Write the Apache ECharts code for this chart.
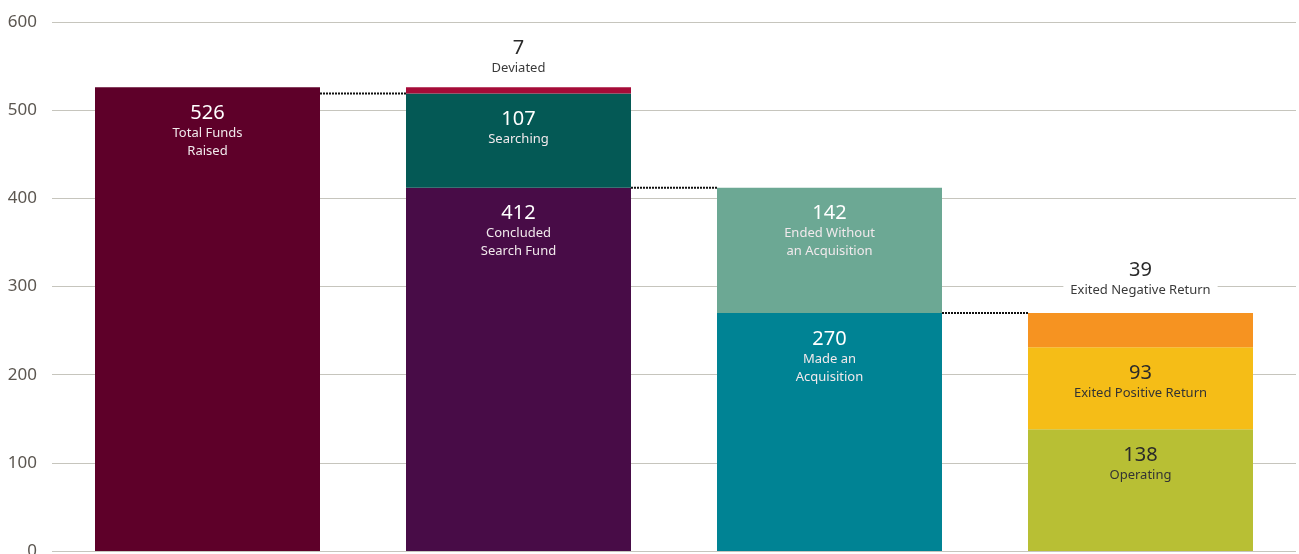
<!DOCTYPE html>
<html>
<head>
<meta charset="utf-8">
<script src="https://cdn.jsdelivr.net/npm/echarts@6/dist/echarts.min.js"></script>
<style>
  html, body { margin: 0; padding: 0; background: #fff; overflow: hidden; }
  #chart { width: 1299px; height: 554px; }
</style>
</head>
<body>
<div id="chart"></div>
<script>
// columns of the funnel, segments listed bottom -> top
const columns = ['Raised', 'Status', 'Outcome', 'Acquired'];
const segmentNames = [
  ['Total Funds\nRaised'],
  ['Concluded\nSearch Fund', 'Searching', 'Deviated'],
  ['Made an\nAcquisition', 'Ended Without\nan Acquisition'],
  ['Operating', 'Exited Positive Return', 'Exited Negative Return']
];
const segmentValues = [
  [526],
  [412, 107, 7],
  [270, 142],
  [138, 93, 39]
];
// dotted connectors: [from column, level]
const connectors = [[0, 519], [1, 412], [2, 270]];
const yTicks = [0, 100, 200, 300, 400, 500, 600];

// styles
const segmentColors = [
  ['#5e0029'],
  ['#480c47', '#045955', '#a50b38'],
  ['#008394', '#6ca894'],
  ['#b8bf34', '#f5bd17', '#f69321']
];
const darkText = [[false], [false, false, false], [false, false], [true, true, true]];
const outside = [[false], [false, false, true], [false, false], [false, false, true]];
const BAR_RATIO = 225 / 311;

const el = document.getElementById('chart');
const chart = echarts.init(el);

function labelFor(c, l) {
  const dark = darkText[c][l];
  const out = outside[c][l];
  const name = segmentNames[c][l];
  const nameRich = out
    ? { fontSize: 13, lineHeight: 18, color: '#3a3a3a', backgroundColor: '#fff', padding: [0, 7] }
    : { fontSize: 13, lineHeight: 18, color: dark ? '#333' : '#f1e9ec' };
  return {
    show: true,
    position: out ? 'top' : 'insideTop',
    distance: out ? (c === 3 ? 14 : 10) : 15,
    align: 'center',
    fontFamily: 'Noto Sans',
    formatter: () => `{v|${segmentValues[c][l]}}\n` +
      name.split('\n').map(s => `{n|${s}}`).join('\n'),
    rich: {
      v: { fontSize: 20, lineHeight: 22, color: out ? '#2a2a2a' : (dark ? '#2a2a2a' : '#fff') },
      n: nameRich
    }
  };
}

const layers = Math.max(...segmentValues.map(s => s.length));
const barSeries = [];
for (let l = 0; l < layers; l++) {
  barSeries.push({
    type: 'bar',
    stack: 'total',
    barWidth: (BAR_RATIO * 100) + '%',
    z: 3,
    data: columns.map((col, c) => {
      if (segmentValues[c][l] == null) return '-';
      return {
        value: segmentValues[c][l],
        itemStyle: { color: segmentColors[c][l] },
        label: labelFor(c, l)
      };
    })
  });
}

const option = {
  animation: false,
  backgroundColor: '#fff',
  grid: { left: 52, right: 3, top: 22, bottom: 3, containLabel: false, outerBoundsMode: 'none' },
  xAxis: {
    type: 'category',
    data: columns,
    axisLine: { show: false },
    axisTick: { show: false },
    axisLabel: { show: false }
  },
  yAxis: {
    type: 'value',
    min: yTicks[0],
    max: yTicks[yTicks.length - 1],
    interval: 100,
    axisLine: { show: false },
    axisTick: { show: false },
    axisLabel: { color: '#5b5650', fontSize: 17, fontFamily: 'Noto Sans', margin: 15 },
    splitLine: { lineStyle: { color: '#c6c5bd', width: 1 } }
  },
  series: barSeries.concat([{
    type: 'custom',
    z: 4,
    data: connectors,
    encode: { x: 0, y: 1 },
    renderItem(params, api) {
      const p = api.coord([api.value(0), api.value(1)]);
      const band = api.size([1, 0])[0];
      const half = band * BAR_RATIO / 2;
      return {
        type: 'line',
        shape: { x1: p[0] + half, y1: p[1], x2: p[0] + band - half, y2: p[1] },
        style: { stroke: '#111', lineWidth: 2, lineDash: [2, 1] }
      };
    }
  }])
};

chart.setOption(option);
</script>
</body>
</html>
